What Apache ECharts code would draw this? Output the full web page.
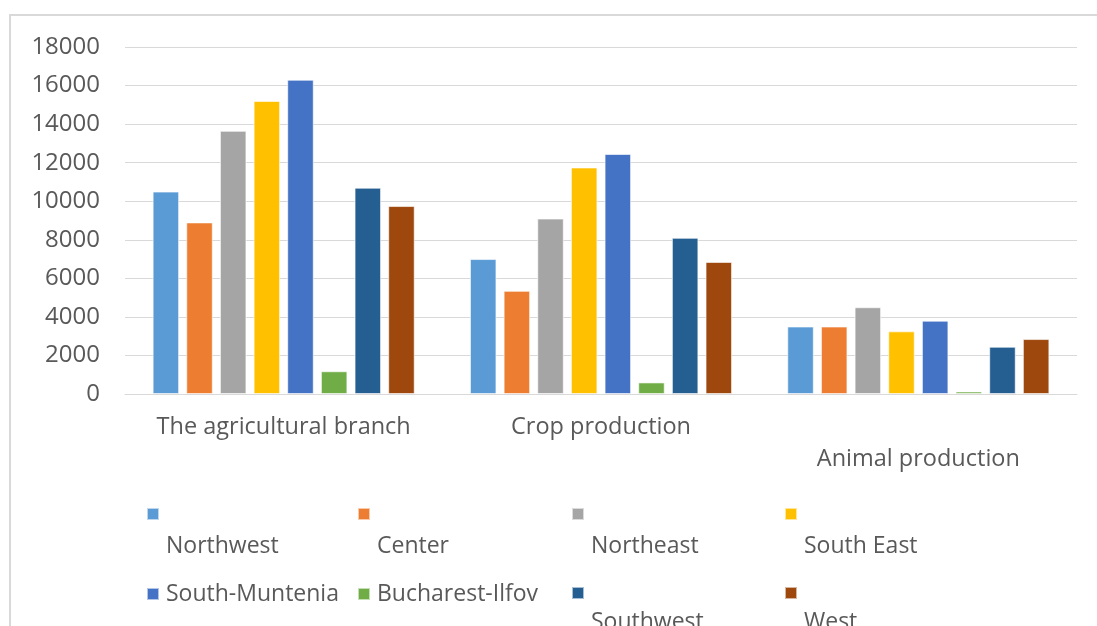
<!DOCTYPE html>
<html>
<head>
<meta charset="utf-8">
<script src="https://cdn.jsdelivr.net/npm/echarts@6/dist/echarts.min.js"></script>
<style>html,body{margin:0;padding:0;background:#fff}#c{width:1097px;height:626px}</style>
</head>
<body>
<div id="c"></div>
<script>
const categories = ['The agricultural branch', 'Crop production', 'Animal production'];
const regions = ['Northwest', 'Center', 'Northeast', 'South East', 'South-Muntenia', 'Bucharest-Ilfov', 'Southwest', 'West'];
const northwest = [10500, 7000, 3500];
const center = [8900, 5350, 3500];
const northeast = [13650, 9100, 4500];
const southEast = [15200, 11750, 3250];
const southMuntenia = [16300, 12450, 3800];
const bucharestIlfov = [1180, 600, 130];
const southwest = [10700, 8100, 2450];
const west = [9750, 6850, 2850];
const yTicks = [0, 2000, 4000, 6000, 8000, 10000, 12000, 14000, 16000, 18000];

const seriesValues = [northwest, center, northeast, southEast, southMuntenia, bucharestIlfov, southwest, west];
const colors = ['#5B9BD5', '#ED7D31', '#A5A5A5', '#FFC000', '#4472C4', '#70AD47', '#255E91', '#9E480E'];

const FONT = '"Open Sans"';
const TXT = '#595959';

// legend placement: [left, top, wrapped?, lineHeight]
const legendPos = [
  [146, 450, true, 64], [357, 450, true, 64], [571, 450, true, 64], [784, 450, true, 64],
  [146, 579, false, 30], [357, 579, false, 30], [571, 535, true, 58], [784, 535, true, 58]
];

const legends = regions.map((r, i) => ({
  data: [r],
  left: legendPos[i][0],
  top: legendPos[i][1],
  padding: 0,
  itemWidth: 12,
  itemHeight: 12,
  icon: 'rect',
  selectedMode: false,
  formatter: name => legendPos[i][2] ? '\n' + name : name,
  textStyle: {
    fontFamily: FONT,
    fontSize: 23,
    color: TXT,
    lineHeight: legendPos[i][3],
    padding: [0, 0, 0, 2]
  }
}));

const chart = echarts.init(document.getElementById('c'), null, {renderer: 'canvas'});
chart.setOption({
  animation: false,
  color: colors,
  graphic: [{
    type: 'rect',
    shape: {x: 10, y: 15, width: 1200, height: 800},
    style: {fill: 'none', stroke: '#d9d9d9', lineWidth: 2},
    silent: true,
    z: -10
  }],
  grid: {left: 125, right: 20, top: 47, bottom: 232},
  legend: legends,
  xAxis: {
    type: 'category',
    data: categories,
    axisTick: {show: false},
    axisLine: {lineStyle: {color: '#d9d9d9', width: 1}},
    axisLabel: {
      interval: 0,
      margin: 17,
      fontFamily: FONT,
      fontSize: 23.5,
      color: TXT,
      lineHeight: 32,
      formatter: (v, idx) => idx === 2 ? '\n' + v : v
    }
  },
  yAxis: {
    type: 'value',
    min: yTicks[0],
    max: yTicks[yTicks.length - 1],
    interval: yTicks[1] - yTicks[0],
    axisLine: {show: false},
    axisTick: {show: false},
    splitLine: {lineStyle: {color: '#d9d9d9', width: 1}},
    axisLabel: {
      margin: 25,
      fontFamily: FONT,
      fontSize: 24,
      color: TXT,
      formatter: v => String(v)
    }
  },
  series: regions.map((r, i) => ({
    name: r,
    type: 'bar',
    data: seriesValues[i],
    barWidth: 26.5,
    barGap: '27%',
    itemStyle: {borderColor: 'rgba(255,255,255,0.6)', borderWidth: 1}
  }))
});
</script>
</body>
</html>
